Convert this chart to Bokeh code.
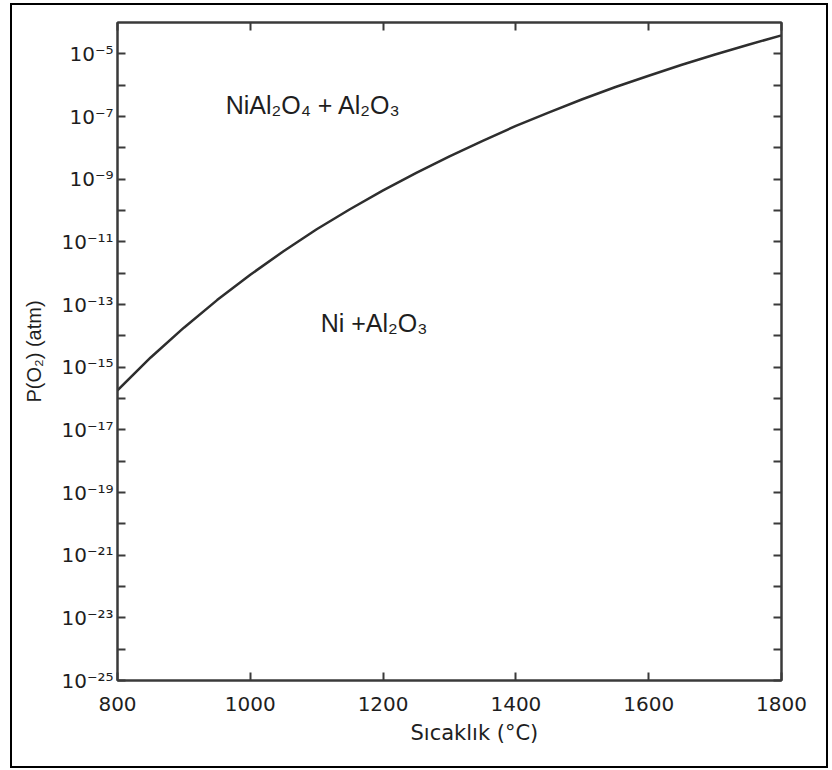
from bokeh.plotting import figure
from bokeh.models import (FixedTicker, LogAxis, LinearAxis, Label, Title,
                          CustomJSTickFormatter, InlineStyleSheet)
from bokeh.embed import file_html
from bokeh.resources import INLINE

# ---- data ----
temperature_c = [800, 850, 900, 950, 1000, 1050, 1100, 1150, 1200, 1250, 1300,
                 1350, 1400, 1450, 1500, 1550, 1600, 1650, 1700, 1750, 1800]
log10_po2 = [-15.74, -14.69, -13.74, -12.86, -12.05, -11.30, -10.60, -9.96, -9.36,
             -8.80, -8.27, -7.78, -7.30, -6.87, -6.45, -6.06, -5.70, -5.35, -5.02,
             -4.71, -4.41]
po2 = [10.0 ** v for v in log10_po2]

x_ticks = [800, 1000, 1200, 1400, 1600, 1800]
y_major_exp = [-25, -23, -21, -19, -17, -15, -13, -11, -9, -7, -5]
y_minor_exp = [-24, -22, -20, -18, -16, -14, -12, -10, -8, -6]

x_title = "Sıcaklık (°C)"
y_title = "P(O₂) (atm)"
region_upper = "NiAl₂O₄ + Al₂O₃"
region_lower = "Ni +Al₂O₃"

SUP = str.maketrans("-0123456789", "⁻⁰¹²³⁴⁵⁶⁷⁸⁹")

y_major = [10.0 ** e for e in y_major_exp]
y_minor = [10.0 ** e for e in y_minor_exp]
y_labels = {10.0 ** e: "10" + str(e).translate(SUP) for e in y_major_exp}

AX = "#3a3a3a"
TXT = "#1e1e1e"

p = figure(width=832, height=770, x_range=(800, 1800), y_range=(1e-25, 1e-4),
           y_axis_type="log", output_backend="svg", toolbar_location=None,
           min_border_left=117, min_border_right=51, min_border_top=22,
           min_border_bottom=90)
p.background_fill_color = "white"
p.border_fill_color = "white"
p.outline_line_color = AX
p.outline_line_width = 2
p.xgrid.visible = False
p.ygrid.visible = False

# outer frame round the whole picture
p.stylesheets = [InlineStyleSheet(css=(
    ":host::after { content: ''; position: absolute; left: 10px; top: 3px; "
    "width: 818px; height: 765px; border: 2.5px solid #000; "
    "box-sizing: border-box; pointer-events: none; }"))]

def style_axis(ax):
    ax.axis_line_color = AX
    ax.axis_line_width = 2
    ax.major_tick_line_color = AX
    ax.major_tick_line_width = 2
    ax.major_tick_in = 8
    ax.major_tick_out = 0
    ax.minor_tick_line_color = AX
    ax.minor_tick_line_width = 2
    ax.minor_tick_in = 8
    ax.minor_tick_out = 0
    ax.major_label_text_font = "DejaVu Sans"
    ax.major_label_text_font_size = "20px"
    ax.major_label_text_color = TXT

blank = CustomJSTickFormatter(code="return ''")

# bottom axis
xa = p.xaxis[0]
xa.ticker = FixedTicker(ticks=x_ticks)
style_axis(xa)
xa.major_label_standoff = 16

# left axis
ya = p.yaxis[0]
ya.ticker = FixedTicker(ticks=y_major, minor_ticks=y_minor)
style_axis(ya)
ya.major_label_overrides = y_labels
ya.major_label_standoff = 4
ya.axis_label = y_title
ya.axis_label_text_font = "Liberation Sans"
ya.axis_label_text_font_size = "20px"
ya.axis_label_text_font_style = "normal"
ya.axis_label_text_color = TXT
ya.axis_label_standoff = 13

# right and top axes (ticks only)
ra = LogAxis(ticker=FixedTicker(ticks=y_major, minor_ticks=y_minor), formatter=blank)
style_axis(ra)
p.add_layout(ra, "right")
ta = LinearAxis(ticker=FixedTicker(ticks=x_ticks), formatter=blank)
style_axis(ta)
p.add_layout(ta, "above")

# x title below the axis, shifted right as in the reference
p.add_layout(Title(text=x_title, align="left", offset=293, standoff=11,
                   text_font="DejaVu Sans", text_font_size="21px",
                   text_font_style="normal", text_color=TXT), "below")

# curve
p.line(temperature_c, po2, line_color="#2e2e2e", line_width=2.5)

# region texts
p.add_layout(Label(x=963, y=10 ** -6.64, text=region_upper, text_font="Liberation Sans",
                   text_font_size="25px", text_color=TXT, text_baseline="alphabetic"))
p.add_layout(Label(x=1106, y=10 ** -13.60, text=region_lower, text_font="Liberation Sans",
                   text_font_size="25px", text_color=TXT, text_baseline="alphabetic"))

open("out.html", "w").write(file_html(p, INLINE))
